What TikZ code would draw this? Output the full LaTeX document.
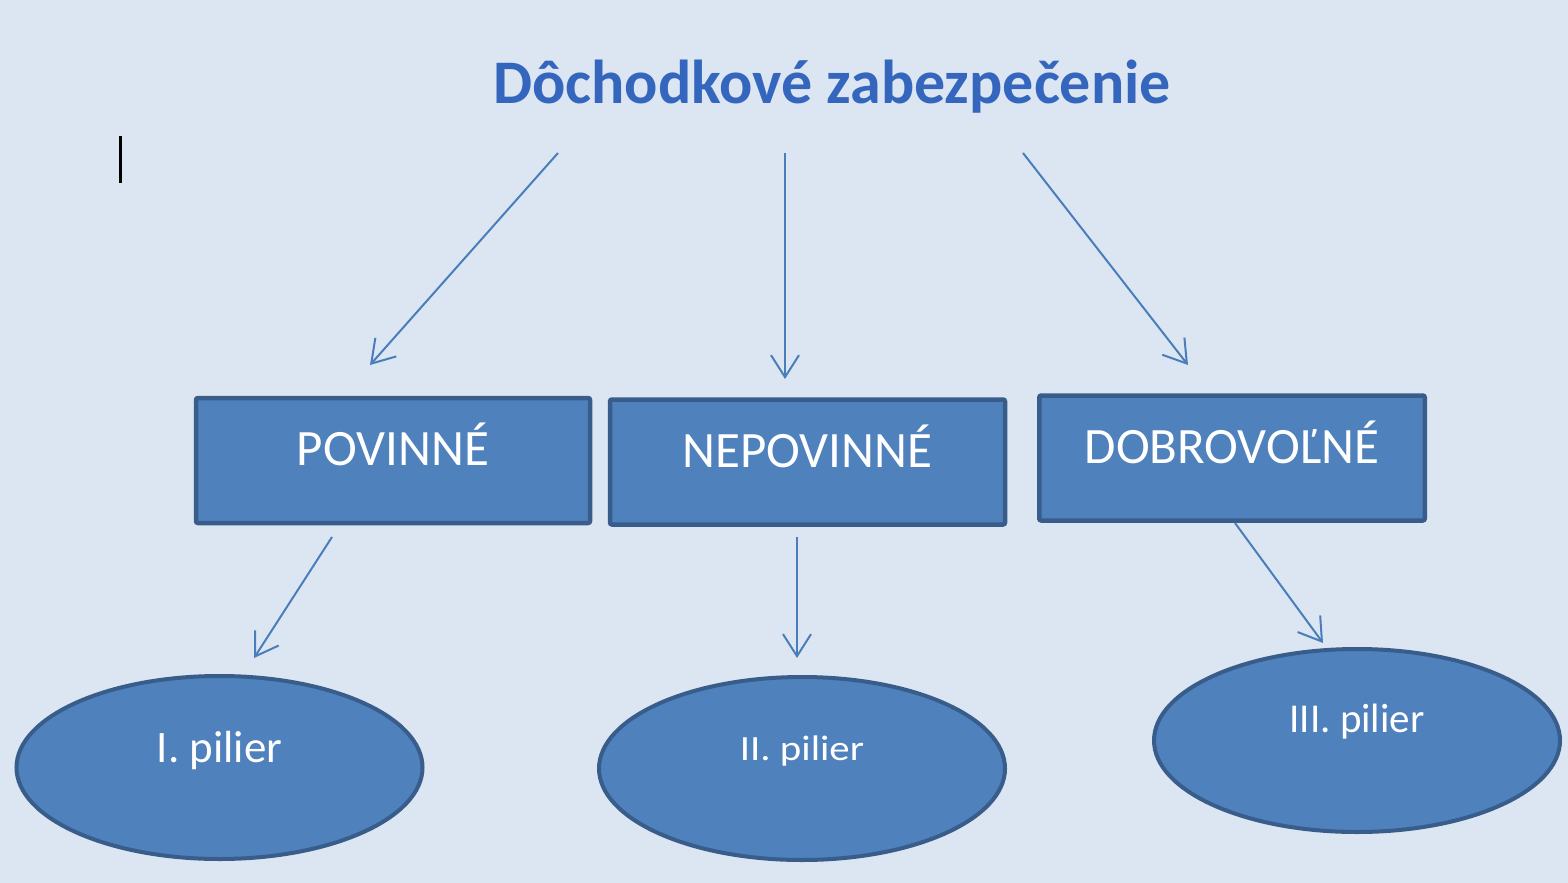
\documentclass[tikz,border=0pt]{standalone}
\usepackage{fontspec}
\setmainfont{Carlito}
\newfontfamily\widefont{Carlito}[FakeStretch=1.15]
\usetikzlibrary{arrows.meta, shapes}

\definecolor{bgblue}{HTML}{DCE6F2}
\definecolor{boxfill}{HTML}{4F81BD}
\definecolor{boxline}{HTML}{385D8A}
\definecolor{arrowblue}{HTML}{4A7EBB}
\definecolor{titleblue}{HTML}{3566BE}

\begin{document}
\begin{tikzpicture}[
    x = 1pt, y = -1pt,
    every node/.style = {text = white, inner sep = 0pt},
    kind/.style = {draw = boxline, fill = boxfill, line width = 4.5pt,
      rounded corners = 2pt, minimum height = 125pt,
      text height = 36pt, text depth = 26pt,
      font = \fontsize{51}{60}\selectfont},
    pilier/.style = {draw = boxline, fill = boxfill, ellipse, line width = 4pt,
      minimum width = 406pt, minimum height = 183pt},
    arr/.style = {draw = arrowblue, line width = 2pt,
      -{Straight Barb[length = 22pt, width = 28pt]}}
  ]
  \fill[bgblue] (0,0) rectangle (1568,883);
  \useasboundingbox (0,0) rectangle (1568,883);

  % text cursor
  \draw[line width = 3pt] (120,136) -- (120,183);

  \node[anchor = base, text = titleblue, font = \fontsize{62}{70}\selectfont\bfseries]
    (Title) at (832,103) {Dôchodkové zabezpečenie};

  % middle row
  \node[kind, minimum width = 394pt]   (Pov)   at (393,460.5) {POVINNÉ};
  \node[kind, minimum width = 395pt]   (Nepov) at (807.5,462) {NEPOVINNÉ};
  \node[kind, minimum width = 385.5pt] (Dobr)  at (1232,458)  {DOBROVOĽNÉ};

  % bottom row
  \node[pilier, text height = 29pt, text depth = 40pt,
    font = \fontsize{45}{52}\selectfont] (P1) at (219.5,767.5) {I. pilier};
  \node[pilier, text height = 24pt, text depth = 41pt,
    font = \widefont\fontsize{35.5}{42}\selectfont] (P2) at (802,768.5) {II. pilier};
  \node[pilier, text height = 26pt, text depth = 43pt,
    font = \fontsize{41}{48}\selectfont] (P3) at (1357,740.5) {III. pilier};

  % arrow ends
  \coordinate (Pov-from)   at (558,153);
  \coordinate (Pov-to)     at (370,365);
  \coordinate (Nepov-from) at (785,153);
  \coordinate (Nepov-to)   at (785,379);
  \coordinate (Dobr-from)  at (1023,153);
  \coordinate (Dobr-to)    at (1188,365);
  \coordinate (P1-from)    at (332,537);
  \coordinate (P1-to)      at (254,658);
  \coordinate (P2-from)    at (797,537);
  \coordinate (P2-to)      at (797,658);
  \coordinate (P3-from)    at (1235,523);
  \coordinate (P3-to)      at (1323,643);

  \draw[arr] (Pov-from) -- (Pov-to);
  \draw[arr] (Nepov-from) -- (Nepov-to);
  \draw[arr] (Dobr-from) -- (Dobr-to);
  \draw[arr] (P1-from) -- (P1-to);
  \draw[arr] (P2-from) -- (P2-to);
  \draw[arr] (P3-from) -- (P3-to);

\end{tikzpicture}
\end{document}
